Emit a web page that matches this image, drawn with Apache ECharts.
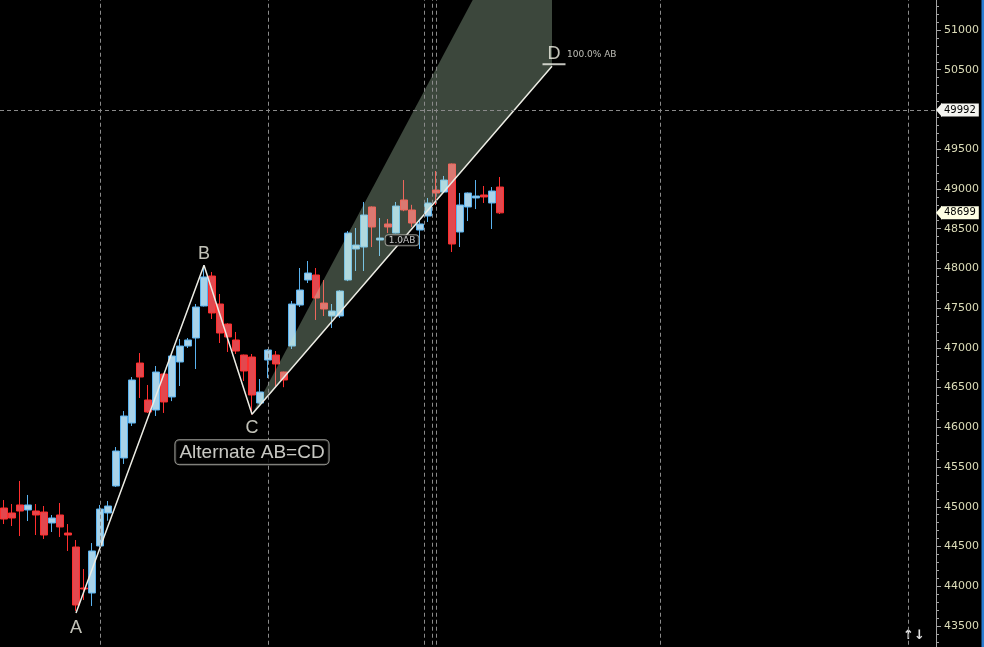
<!DOCTYPE html>
<html><head><meta charset="utf-8">
<script src="https://cdn.jsdelivr.net/npm/echarts@6/dist/echarts.min.js"></script>
<style>html,body{margin:0;padding:0;background:#000;overflow:hidden}#c{width:984px;height:647px}</style>
</head><body><div id="c"></div>
<script>
// ---- data ----
const slotCount = 117;
const categories = Array.from({length: slotCount}, (_, i) => 'D' + (i + 1));
const opens = [44985,44922,45023,44960,44947,44934,44796,44897,44670,44494,
  43978,43915,44507,44922,45262,45614,46054,46809,46344,46218,
  46671,46382,46822,47023,47124,47527,47904,47552,47300,47099,
  46910,46885,46306,46847,46910,46696,47023,47539,47854,47917,
  47564,47401,47401,47854,48244,48269,48773,48357,48559,48445,
  48861,48735,48483,48659,48986,48961,49314,48458,48773,48886,
  48924,48823,49024];
const closes = [44846,44859,44947,45023,44897,44645,44859,44746,44645,43764,
  43966,44444,44972,45010,45702,46143,46596,46633,46193,46696,
  46319,46898,47023,47099,47514,47892,47439,47187,47137,46960,
  46709,46407,46445,46973,46797,46596,47552,47728,47942,47627,
  47489,47464,47715,48445,48294,48672,48521,48382,48521,48785,
  48735,48571,48559,48823,48949,49112,48307,48798,48949,48911,
  48899,48974,48699];
const lows = [44783,44758,44632,44821,44645,44595,44683,44620,44444,43690,
  43827,43752,44490,44825,45250,45539,46017,46369,46181,46143,
  46181,46330,46520,46998,46734,47520,47363,47061,46948,46923,
  46583,46160,46290,46620,46505,46505,46986,47514,47816,47351,
  47401,47250,47376,47840,47967,47967,48269,48156,48445,48440,
  48720,48520,48244,48584,48798,48950,48206,48269,48596,48747,
  48823,48496,48684];
const highs = [45085,45035,45325,45149,45035,45010,44897,45048,44783,44582,
  44217,44544,45023,45073,45752,46205,46633,46935,46533,46772,
  46680,46930,47112,47124,47552,48035,47955,47678,47310,47200,
  46915,46923,46608,46985,46960,46700,47590,48005,48093,48005,
  47854,47552,47725,48471,48508,48836,48780,48634,48622,48836,
  49112,48800,48622,48886,49226,49163,49320,48949,48955,49112,
  49037,49024,49150];
// harmonic pattern points (bar index, price)
const patternNames = ['A','B','C','D'];
const patternIdx = [9, 25, 31, 68.5];
const patternVal = [43665, 48040, 46164, 50544];
// projection zone (C -> 1.618 AB -> D)
const shadeIdx = [31, 68.5, 68.5];
const shadeVal = [46164, 53251, 50544];
// session separators (bar index)
const separatorIdx = [12, 33, 52.5, 53.5, 54, 82, 113];
const crosshairValue = 49992;
const lastValue = 48699;
const yMin = 43000, yMax = 51500, yStep = 500;

// ---- chart ----
const chart = echarts.init(document.getElementById('c'), null, {renderer: 'canvas'});
const candleData = opens.map((o, i) => [o, closes[i], lows[i], highs[i]]);
const patternData = patternIdx.map((x, i) => [x, patternVal[i]]);
const cdMid = [(patternIdx[2] + patternIdx[3]) / 2, (patternVal[2] + patternVal[3]) / 2];
const txt = '#f2f2e6';
const tagX = slotCount - 0.5; // price axis line

const labelItems = [
  {value: patternData[0], label: {formatter: patternNames[0], position: 'bottom', distance: 6}},
  {value: patternData[1], label: {formatter: patternNames[1], position: 'top', distance: 2}},
  {value: patternData[2], label: {formatter: patternNames[2], position: 'bottom', distance: 5}},
  {value: patternData[3], symbol: 'rect', symbolSize: [23, 2], symbolOffset: [2, -2],
    itemStyle: {color: '#f4f4ec'}, label: {formatter: patternNames[3], position: 'top', distance: 0}},
  {value: patternData[3], label: {formatter: '100.0% AB', position: 'right', distance: 15, offset: [0, -12],
    fontSize: 9, fontFamily: 'DejaVu Sans', color: '#e8e8e0'}},
  {value: patternData[2], label: {formatter: 'Alternate AB=CD', position: 'bottom', distance: 26,
    fontSize: 19, color: '#fafaf4', borderColor: '#c8c8c0', borderWidth: 1, borderRadius: 4, padding: [3, 4, 2, 4], backgroundColor: '#000'}},
  {value: cdMid, label: {formatter: '1.0AB', position: 'inside', fontSize: 9, fontFamily: 'DejaVu Sans',
    color: '#f0f0f0', borderColor: '#b0b0a8', borderWidth: 1, borderRadius: 3, padding: [1, 3, 0, 3], backgroundColor: '#000'}}
];

const option = {
  backgroundColor: '#000',
  animation: false,
  grid: {left: 0, right: 48, top: -9.733, bottom: -18.733, containLabel: false, outerBoundsMode: 'none'},
  xAxis: [
    {type: 'category', data: categories, boundaryGap: true, show: false},
    {type: 'value', min: -0.5, max: slotCount - 0.5, show: false}
  ],
  yAxis: {
    type: 'value', position: 'right', min: yMin, max: yMax, interval: yStep,
    splitLine: {show: false},
    axisLine: {show: true, onZero: false, lineStyle: {color: '#a4a4a4', width: 1}},
    axisTick: {show: true, length: 5, lineStyle: {color: '#a4a4a4'}},
    minorTick: {show: true, splitNumber: 5, length: 3, lineStyle: {color: '#a4a4a4'}},
    axisLabel: {color: '#dcdcb8', fontSize: 11, fontFamily: 'DejaVu Sans', margin: 8,
      formatter: v => String(v)}
  },
  series: [
    {
      type: 'line', xAxisIndex: 1, data: [], silent: true, z: 1,
      markLine: {
        silent: true, symbol: ['none', 'none'], animation: false,
        lineStyle: {color: '#8a8a8a', type: [4, 3], width: 1},
        label: {show: false},
        data: separatorIdx.map(v => ({xAxis: v})).concat([
          {yAxis: crosshairValue, label: {show: true, position: 'end', distance: 5,
            formatter: String(crosshairValue), color: '#000', fontSize: 10, fontFamily: 'DejaVu Sans',
            backgroundColor: '#f4f4f0', padding: [2, 3, 1, 3]}},
          {yAxis: lastValue, lineStyle: {color: 'rgba(0,0,0,0)', width: 0}, label: {show: true, position: 'end', distance: 5,
            formatter: String(lastValue), color: '#000', fontSize: 10, fontFamily: 'DejaVu Sans',
            backgroundColor: '#ffffe4', padding: [2, 3, 1, 3]}}
        ])
      },
      markPoint: {
        silent: true, animation: false, symbol: 'triangle', symbolRotate: 90, symbolSize: [14, 6],
        symbolOffset: [3, 0], label: {show: false},
        data: [
          {coord: [tagX, crosshairValue], itemStyle: {color: '#f4f4f0'}},
          {coord: [tagX, lastValue], itemStyle: {color: '#ffffe4'}}
        ]
      }
    },
    {
      type: 'candlestick', xAxisIndex: 0, data: candleData, barWidth: 7, z: 2,
      itemStyle: {color: '#a8d2e8', color0: '#e2484e', borderColor: '#5ab2ee', borderColor0: '#ff2e2e', borderWidth: 1}
    },
    {
      type: 'custom', xAxisIndex: 1, silent: true, z: 3, clip: false,
      data: shadeIdx.map((x, i) => [x, shadeVal[i]]),
      renderItem: function (params, api) {
        if (params.dataIndex !== 0) return;
        const pts = shadeIdx.map((x, i) => api.coord([x, shadeVal[i]]));
        return {type: 'polygon', shape: {points: pts}, style: {fill: 'rgba(200,235,200,0.30)'}};
      }
    },
    {
      type: 'line', xAxisIndex: 1, data: patternData, symbol: 'none', silent: true, z: 4,
      lineStyle: {color: '#ecece4', width: 1.5}
    },
    {
      type: 'scatter', xAxisIndex: 1, data: labelItems, symbolSize: 0, silent: true, z: 5,
      label: {show: true, color: txt, fontSize: 18, fontFamily: 'Liberation Sans'}
    }
  ],
  graphic: [
    {type: 'rect', right: 0, top: 0, shape: {width: 2.5, height: 647}, style: {fill: '#2a7ed2'}, silent: true},
    {type: 'text', left: 903, top: 629, style: {text: '\u2191\u2193', fill: '#e0e0e0', font: 'bold 13px DejaVu Sans'}, silent: true}
  ]
};
chart.setOption(option);
</script>
</body></html>
